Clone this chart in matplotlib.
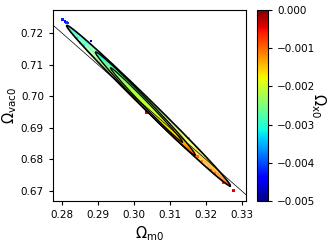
import numpy as np
import matplotlib.pyplot as plt

# --- data ---
# contour ellipses: upper-left tip, lower-right tip, half minor vector (data units)
outer_tips = [(0.2813, 0.7224), (0.3268, 0.6716)]
outer_minor = (0.00098, 0.00118)
middle_tips = [(0.2893, 0.7140), (0.3170, 0.6814)]
middle_minor = (0.00078, 0.00094)
inner_tips = [(0.2935, 0.7090), (0.3135, 0.6855)]
inner_minor = (0.00048, 0.00058)

# colour of the sample cloud (Omega_x0) along the long axis, three rows across it
stop_pos = [-1, -0.95, -0.85, -0.7, -0.5, -0.25, 0, 0.25, 0.5, 0.7, 0.85, 0.95, 1]
ox_upper = [-0.0034, -0.0034, -0.0032, -0.0030, -0.0028, -0.0026, -0.0025,
            -0.0023, -0.0021, -0.0018, -0.0015, -0.0012, -0.0012]
ox_center = [-0.0031, -0.0031, -0.0029, -0.0026, -0.0024, -0.0022, -0.0021,
             -0.0019, -0.0017, -0.0014, -0.0012, -0.0010, -0.0010]
ox_lower = [-0.0028, -0.0028, -0.0026, -0.0023, -0.0021, -0.0019, -0.0018,
            -0.0016, -0.0014, -0.0011, -0.0009, -0.0008, -0.0008]

# stray samples outside the contours
pts_m = [0.2801, 0.2813, 0.2816, 0.2808, 0.2881, 0.2850, 0.2862, 0.2840,
         0.3035, 0.3177, 0.3190, 0.3213, 0.3225, 0.3248, 0.3277, 0.3277, 0.3152]
pts_vac = [0.7243, 0.7234, 0.7231, 0.7236, 0.7175, 0.7170, 0.7160, 0.7185,
           0.6948, 0.6809, 0.6795, 0.6766, 0.6755, 0.6726, 0.6703, 0.6700, 0.6868]
pts_ox = [-0.0042, -0.0040, -0.0041, -0.0043, -0.0045, -0.0030, -0.0031, -0.0033,
          -0.0004, -0.0010, -0.0011, -0.0009, -0.0010, -0.0007, -0.0005, -0.0004, -0.0030]

xlim = (0.2775, 0.3312)
ylim = (0.6668, 0.7273)
vmin, vmax = -0.005, 0.0


def ellipse_line(tips, minor, n=300):
    e1, e2, b = np.array(tips[0]), np.array(tips[1]), np.array(minor)
    c, a = (e1 + e2) / 2, (e2 - e1) / 2
    t = np.linspace(0, 2 * np.pi, n)
    return c[0] + a[0] * np.cos(t) + b[0] * np.sin(t), c[1] + a[1] * np.cos(t) + b[1] * np.sin(t)


def ellipse_mesh(tips, minor):
    e1, e2, b = np.array(tips[0]), np.array(tips[1]), np.array(minor)
    c, a = (e1 + e2) / 2, (e2 - e1) / 2
    U, V = np.meshgrid(np.array(stop_pos, float), [1.0, 0.0, -1.0], indexing='ij')
    W = V * np.sqrt(np.clip(1 - U ** 2, 0, None))
    return c[0] + a[0] * U + b[0] * W, c[1] + a[1] * U + b[1] * W


fig = plt.figure(figsize=(3.32, 2.45), dpi=100)
ax = fig.add_axes([53 / 332, 44 / 245, 193 / 332, 191 / 245])
cax = fig.add_axes([257 / 332, 44 / 245, 11 / 332, 191 / 245])

C = np.column_stack([ox_upper, ox_center, ox_lower])

# pale outer cloud, dense inner cloud
X, Y = ellipse_mesh(outer_tips, outer_minor)
ax.pcolormesh(X, Y, C, shading='gouraud', cmap='jet', vmin=vmin, vmax=vmax, alpha=0.45)
X, Y = ellipse_mesh(middle_tips, middle_minor)
mesh = ax.pcolormesh(X, Y, C, shading='gouraud', cmap='jet', vmin=vmin, vmax=vmax)

ax.scatter(pts_m, pts_vac, c=pts_ox, cmap='jet', vmin=vmin, vmax=vmax,
           s=3, marker='s', linewidths=0)

for tips, minor, lw in [(outer_tips, outer_minor, 1.2),
                        (middle_tips, middle_minor, 1.0),
                        (inner_tips, inner_minor, 0.9)]:
    lx, ly = ellipse_line(tips, minor)
    ax.plot(lx, ly, color='black', lw=lw)

# flat universe line
xs = np.array(xlim)
ax.plot(xs, 1 - xs, color='black', lw=0.5)

ax.set_xlim(xlim)
ax.set_ylim(ylim)
ax.set_xticks([0.28, 0.29, 0.30, 0.31, 0.32, 0.33])
ax.set_yticks([0.67, 0.68, 0.69, 0.70, 0.71, 0.72])
ax.set_xticklabels(['0.28', '0.29', '0.30', '0.31', '0.32', '0.33'])
ax.set_yticklabels(['0.67', '0.68', '0.69', '0.70', '0.71', '0.72'])
ax.tick_params(labelsize=7.5, length=3, width=0.8)
ax.set_xlabel(r'$\Omega_{\rm m0}$', fontsize=10.5, labelpad=3)
ax.set_ylabel(r'$\Omega_{\rm vac0}$', fontsize=10.5, labelpad=1)

cb = fig.colorbar(mesh, cax=cax)
cb.set_ticks([0.0, -0.001, -0.002, -0.003, -0.004, -0.005])
cb.set_ticklabels(['0.000', '\u22120.001', '\u22120.002', '\u22120.003', '\u22120.004', '\u22120.005'])
cb.ax.tick_params(labelsize=7.5, length=3, width=0.8)
cb.set_label(r'$\Omega_{\rm x0}$', fontsize=10.5, rotation=270, labelpad=9)

fig.savefig('out.png', dpi=100)
